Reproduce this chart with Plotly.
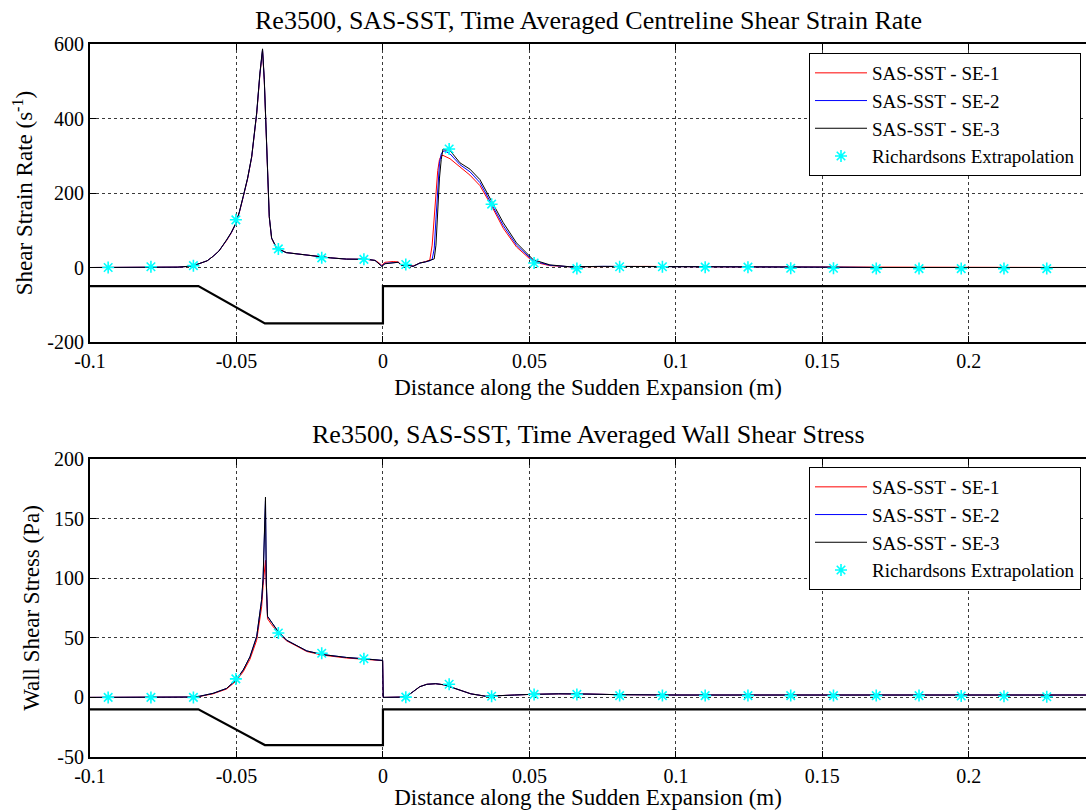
import plotly.graph_objects as go

# ---------------- data: top plot (centreline shear strain rate) ----------------
x_top = [-0.1, -0.09, -0.08, -0.07, -0.065, -0.0625, -0.06, -0.058, -0.056, -0.0534,
         -0.0518, -0.0502, -0.049, -0.0477, -0.0462, -0.0448, -0.0431, -0.042, -0.0411,
         -0.0405, -0.0399, -0.0394, -0.0388, -0.038, -0.0363, -0.033, -0.026, -0.018,
         -0.0124, -0.0056, -0.0027, -0.0016, -0.0004, 0.0007, 0.0035, 0.0052, 0.0064,
         0.0081, 0.0103, 0.0126, 0.0145, 0.016, 0.0168, 0.0175, 0.0181, 0.0187, 0.0193,
         0.0199, 0.0205, 0.0212, 0.0229, 0.0263, 0.0297, 0.0331, 0.0371, 0.0411, 0.0456,
         0.0513, 0.057, 0.0638, 0.075, 0.09, 0.11, 0.13, 0.15, 0.17, 0.19, 0.21, 0.23, 0.24]

se1_top = [0, 0, 0.5, 1, 4, 10, 18, 30, 44, 72,
           92, 117, 148, 189, 238, 296, 412, 518, 582,
           500, 366, 232, 135, 78, 52, 40, 33, 26,
           22.5, 22, 19, 14, 6, 14, 16, 15, 6,
           8, 4, 12, 16, 20, 60, 130, 200, 260, 290,
           300, 301, 298, 292, 270, 248, 220, 165, 105, 55,
           15, 5, 2, 3, 3, 2, 2, 1, 0, 0, 0, 0, 0]

se2_top = [0, 0, 0.5, 1, 4, 10, 18, 30, 44, 73,
           93, 118, 149, 190, 239, 297, 414, 520, 585,
           502, 368, 234, 136, 79, 52, 40, 33, 26,
           22.5, 22, 19, 13, 4, 11, 13, 14, 5,
           7, 3, 12, 15, 18, 22, 50, 130, 220, 280,
           305, 312, 313, 305, 276, 257, 228, 172, 112, 60,
           18, 6, 2, 3, 3, 2, 2, 1, 0, 0, 0, 0, 0]

se3_top = [0, 0, 0.5, 1, 4, 10, 18, 30, 44, 74,
           94, 119, 150, 191, 240, 298, 415, 522, 587,
           504, 370, 235, 137, 79, 52, 40, 33, 26,
           22.5, 22, 19, 12, 3, 10, 12, 14, 5,
           7, 3, 12, 15, 18, 20, 23, 60, 160, 240,
           290, 318, 316, 314, 281, 264, 236, 178, 120, 66,
           21, 7, 2, 3, 3, 2, 2, 1, 0, 0, 0, 0, 0]

# ---------------- data: bottom plot (wall shear stress) ----------------
x_bot = [-0.1, -0.09, -0.08, -0.07, -0.065, -0.0625, -0.058, -0.0534, -0.0502, -0.0477,
         -0.0454, -0.0431, -0.0414, -0.0409, -0.0404, -0.0401, -0.0398, -0.0394, -0.038,
         -0.0357, -0.0329, -0.026, -0.0207, -0.0124, -0.0065, -0.0001, 0.0001, 0.0078,
         0.0104, 0.0126, 0.015, 0.018, 0.021, 0.025, 0.03, 0.035, 0.04, 0.045, 0.05,
         0.06, 0.07, 0.08, 0.1, 0.12, 0.14, 0.16, 0.18, 0.2, 0.22, 0.24]

se1_bot = [0, 0, 0, 0, 0.3, 0.8, 3, 7, 13.5, 21.5,
           32, 48, 76, 94, 112, 115, 92, 66, 61,
           54, 47.5, 38.5, 35.5, 33, 32, 30.8, 0, 0.3,
           5, 9, 11, 11.5, 10.5, 7, 3, 1, 1.2, 2, 2.5,
           3, 2.8, 2.3, 2, 2, 2, 2, 2, 2, 2, 2]

se2_bot = [0, 0, 0, 0, 0.3, 1, 3.4, 7.5, 14.5, 23,
           34, 51, 82, 100, 138, 165, 96, 68, 63,
           55, 48, 39, 36, 33.5, 32.4, 31, 0, 0.3,
           5, 9, 11, 11.5, 10.5, 7, 3, 1, 1.2, 2, 2.5,
           3, 2.8, 2.3, 2, 2, 2, 2, 2, 2, 2, 2]

se3_bot = [0, 0, 0, 0, 0.3, 1, 3.4, 7.5, 14.5, 23,
           34, 51, 82, 101, 140, 168, 96, 68, 63,
           55, 48, 39, 36, 33.5, 32.4, 31, 0, 0.3,
           5, 9, 11, 11.5, 10.5, 7, 3, 1, 1.2, 2, 2.5,
           3, 2.8, 2.3, 2, 2, 2, 2, 2, 2, 2, 2]

# ---------------- Richardson extrapolation points ----------------
x_rich = [-0.0938, -0.0792, -0.0647, -0.0502, -0.0357, -0.0209, -0.0065, 0.0078,
          0.0226, 0.0371, 0.0516, 0.0662, 0.0808, 0.0954, 0.1100, 0.1246, 0.1392,
          0.1538, 0.1684, 0.1830, 0.1974, 0.2120, 0.2266]
rich_top = [0, 2, 5, 128, 50, 26, 22, 8,
            318, 170, 12, -3, 2, 2, 1, 1, -2,
            -2, -3, -3, -3, -3, -3]
rich_bot = [0, 0, 0, 15.5, 54, 37, 32.4, 0.2,
            11, 1, 2.5, 2.5, 1.5, 1.5, 1.5, 1.5, 1.5,
            1.5, 1.5, 1.5, 1.2, 1.0, 0.5]

# ---------------- geometry outline of the sudden expansion ----------------
geo_x = [-0.1, -0.063, -0.0403, 0.0, 0.0, 0.24]
geo_top = [-50, -50, -150, -150, -50, -50]
geo_bot = [-10, -10, -40, -40, -10, -10]

# ---------------- tick labels ----------------
x_tickvals = [-0.1, -0.05, 0, 0.05, 0.1, 0.15, 0.2]
x_ticktext = ["-0.1", "-0.05", "0", "0.05", "0.1", "0.15", "0.2"]
y_top_tickvals = [-200, 0, 200, 400, 600]
y_top_ticktext = ["-200", "0", "200", "400", "600"]
y_bot_tickvals = [-50, 0, 50, 100, 150, 200]
y_bot_ticktext = ["-50", "0", "50", "100", "150", "200"]

series_names = ["SAS-SST - SE-1", "SAS-SST - SE-2", "SAS-SST - SE-3"]
series_colors = ["#ff0000", "#0000ff", "#000000"]
rich_name = "Richardsons Extrapolation"

FONT = "Liberation Serif, Times New Roman, serif"

fig = go.Figure()

# ---- top plot ----
fig.add_trace(go.Scatter(x=geo_x, y=geo_top, mode="lines", line=dict(color="black", width=2.2),
                         showlegend=False, hoverinfo="skip", xaxis="x", yaxis="y"))
for name, col, ys in zip(series_names, series_colors, [se1_top, se2_top, se3_top]):
    fig.add_trace(go.Scatter(x=x_top, y=ys, mode="lines", name=name,
                             line=dict(color=col, width=1), xaxis="x", yaxis="y", legend="legend"))
fig.add_trace(go.Scatter(x=x_rich, y=rich_top, mode="markers", name=rich_name,
                         marker=dict(symbol="asterisk-open", size=10, color="#00ffff",
                                     line=dict(color="#00ffff", width=1.6)),
                         xaxis="x", yaxis="y", legend="legend"))

# ---- bottom plot ----
fig.add_trace(go.Scatter(x=geo_x, y=geo_bot, mode="lines", line=dict(color="black", width=2.2),
                         showlegend=False, hoverinfo="skip", xaxis="x2", yaxis="y2"))
for name, col, ys in zip(series_names, series_colors, [se1_bot, se2_bot, se3_bot]):
    fig.add_trace(go.Scatter(x=x_bot, y=ys, mode="lines", name=name,
                             line=dict(color=col, width=1), xaxis="x2", yaxis="y2", legend="legend2"))
fig.add_trace(go.Scatter(x=x_rich, y=rich_bot, mode="markers", name=rich_name,
                         marker=dict(symbol="asterisk-open", size=10, color="#00ffff",
                                     line=dict(color="#00ffff", width=1.6)),
                         xaxis="x2", yaxis="y2", legend="legend2"))

# pixel geometry: plot area spans y 44..757 (713 px)
W, H = 1086, 810
ML, MR, MT, MB = 90, 0, 44, 53
PH = H - MT - MB


def fy(py):
    return (H - MB - py) / PH


axis_common = dict(showline=True, linecolor="black", linewidth=2, ticks="inside", ticklen=6,
                   tickcolor="black", showgrid=True, gridcolor="#3a3a3a", griddash="dot",
                   gridwidth=1, zeroline=False, automargin=False,
                   tickfont=dict(family=FONT, size=20, color="black"))

title_font = dict(family=FONT, size=23, color="black")
legend_common = dict(xanchor="right", yanchor="top", bgcolor="white", bordercolor="black",
                     borderwidth=1, font=dict(family=FONT, size=19, color="black"),
                     tracegroupgap=0, itemwidth=52)

fig.update_layout(
    width=W, height=H,
    margin=dict(l=ML, r=MR, t=MT, b=MB),
    paper_bgcolor="white", plot_bgcolor="white",
    font=dict(family=FONT, color="black"),
    xaxis=dict(domain=[0, 1], range=[-0.1, 0.24], anchor="y", mirror="ticks",
               tickvals=x_tickvals, ticktext=x_ticktext,
               title=dict(text="Distance along the Sudden Expansion (m)", font=title_font, standoff=8),
               **axis_common),
    yaxis=dict(domain=[fy(342), 1], range=[-200, 600], anchor="x",
               tickvals=y_top_tickvals, ticktext=y_top_ticktext,
               title=dict(text="Shear Strain Rate (s<sup>-1</sup>)", font=title_font, standoff=8),
               **axis_common),
    xaxis2=dict(domain=[0, 1], range=[-0.1, 0.24], anchor="y2", mirror="ticks",
                tickvals=x_tickvals, ticktext=x_ticktext,
                title=dict(text="Distance along the Sudden Expansion (m)", font=title_font, standoff=4),
                **axis_common),
    yaxis2=dict(domain=[0, fy(459)], range=[-50, 200], anchor="x2",
                tickvals=y_bot_tickvals, ticktext=y_bot_ticktext,
                title=dict(text="Wall Shear Stress (Pa)", font=title_font, standoff=8),
                **axis_common),
    legend=dict(x=(1081 - ML) / (W - ML - MR), y=fy(53), **legend_common),
    legend2=dict(x=(1081 - ML) / (W - ML - MR), y=fy(467), **legend_common),
    annotations=[
        dict(text="Re3500, SAS-SST, Time Averaged Centreline Shear Strain Rate",
             xref="paper", yref="paper", x=0.5, y=fy(20), xanchor="center", yanchor="middle",
             showarrow=False, font=dict(family=FONT, size=26, color="black")),
        dict(text="Re3500, SAS-SST, Time Averaged Wall Shear Stress",
             xref="paper", yref="paper", x=0.5, y=fy(435), xanchor="center", yanchor="middle",
             showarrow=False, font=dict(family=FONT, size=26, color="black")),
    ],
)

fig.write_html("out.html")
